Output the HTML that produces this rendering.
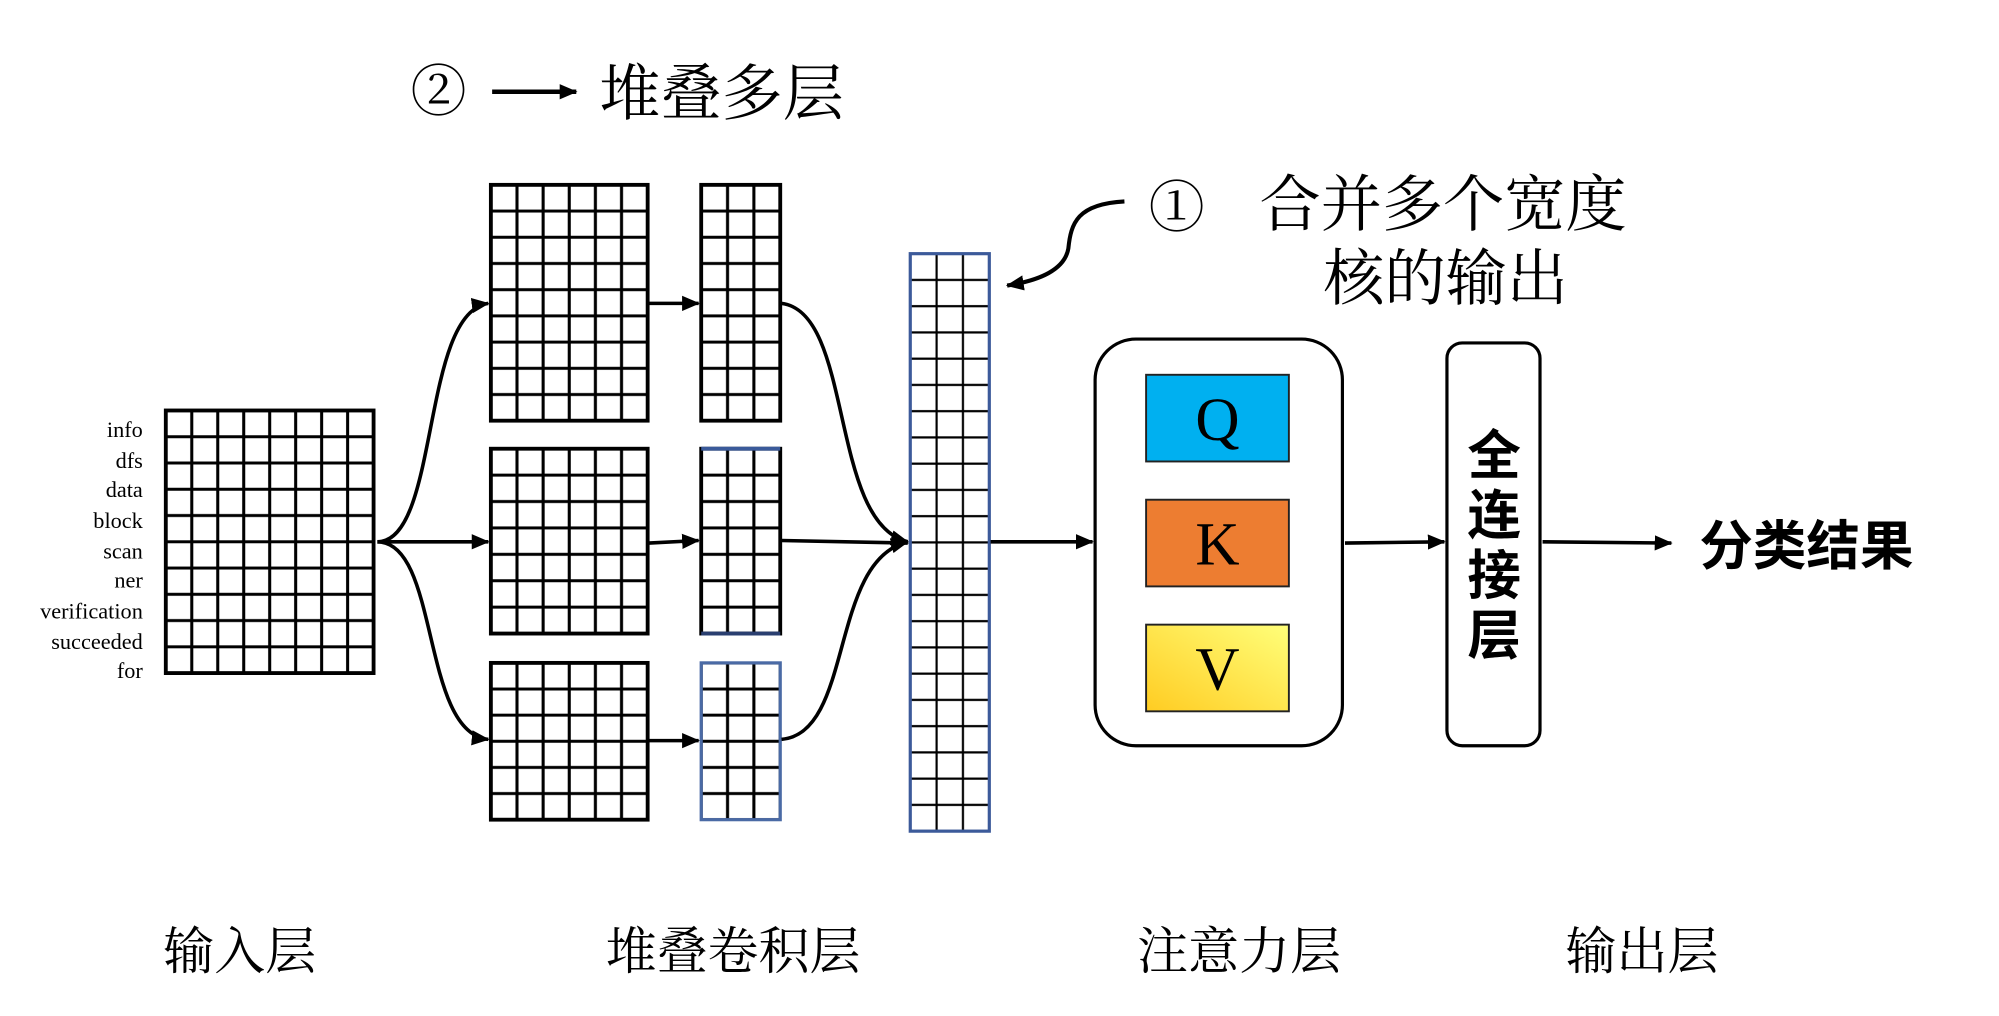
<!DOCTYPE html>
<html><head><meta charset="utf-8">
<style>
html,body{margin:0;padding:0;background:#fff;}
svg{display:block;}
.cn{font-family:"Liberation Serif","Noto Serif CJK SC","Noto Sans CJK SC",serif;}
.lab{font-family:"Liberation Serif",serif;font-size:17.5px;}
.bold{font-family:"Liberation Sans","Noto Sans CJK SC",sans-serif;font-weight:bold;}
</style></head>
<body>
<svg width="1999" height="1016" viewBox="0 0 1568 797" xmlns="http://www.w3.org/2000/svg">
<defs>
<marker id="ah" viewBox="0 0 10 10" refX="9" refY="5" markerWidth="6" markerHeight="6" markerUnits="userSpaceOnUse" orient="auto">
</marker>
<marker id="a" viewBox="0 0 14 12" refX="13" refY="6" markerWidth="14" markerHeight="12" markerUnits="userSpaceOnUse" orient="auto">
<path d="M0 0 L14 6 L0 12 Z" fill="#000"/>
</marker>
<pattern id="pIn" patternUnits="userSpaceOnUse" x="140.19" y="332.3" width="20.375" height="20.6">
<path d="M10.19 0 V20.6 M0 10.3 H20.375" stroke="#000" stroke-width="2.4"/></pattern>
<pattern id="pT" patternUnits="userSpaceOnUse" x="395.25" y="155.28" width="20.5" height="20.56">
<path d="M10.25 0 V20.56 M0 10.28 H20.5" stroke="#000" stroke-width="2.4"/></pattern>
<pattern id="pM" patternUnits="userSpaceOnUse" x="395.25" y="362.36" width="20.5" height="20.71">
<path d="M10.25 0 V20.71 M0 10.36 H20.5" stroke="#000" stroke-width="2.4"/></pattern>
<pattern id="pB" patternUnits="userSpaceOnUse" x="395.25" y="530.25" width="20.5" height="20.5">
<path d="M10.25 0 V20.5 M0 10.25 H20.5" stroke="#000" stroke-width="2.4"/></pattern>
<pattern id="qT" patternUnits="userSpaceOnUse" x="560.33" y="155.28" width="20.67" height="20.56">
<path d="M10.33 0 V20.56 M0 10.28 H20.67" stroke="#000" stroke-width="2.4"/></pattern>
<pattern id="qM" patternUnits="userSpaceOnUse" x="560.33" y="362.36" width="20.67" height="20.71">
<path d="M10.33 0 V20.71 M0 10.36 H20.67" stroke="#000" stroke-width="2.4"/></pattern>
<pattern id="qB" patternUnits="userSpaceOnUse" x="560.33" y="530.25" width="20.67" height="20.5">
<path d="M10.33 0 V20.5 M0 10.25 H20.67" stroke="#000" stroke-width="2.4"/></pattern>
<pattern id="pC" patternUnits="userSpaceOnUse" x="724.33" y="209.3" width="20.67" height="20.59">
<path d="M10.33 0 V20.59 M0 10.3 H20.67" stroke="#000" stroke-width="1.7"/></pattern>
<linearGradient id="yg" x1="0" y1="1" x2="1" y2="0">
<stop offset="0" stop-color="#ffcc22"/><stop offset="1" stop-color="#ffff7a"/></linearGradient>
</defs>

<!-- top title -->
<text x="344" y="87" class="cn" font-size="44" text-anchor="middle">②</text>
<line x1="386" y1="72" x2="452" y2="72" stroke="#000" stroke-width="3.5" marker-end="url(#a)"/>
<text x="470" y="90" class="cn" font-size="48">堆叠多层</text>

<!-- input labels -->
<g class="lab" text-anchor="end">
<text x="112" y="343">info</text>
<text x="112" y="367">dfs</text>
<text x="112" y="390">data</text>
<text x="112" y="414">block</text>
<text x="112" y="438">scan</text>
<text x="112" y="461">ner</text>
<text x="112" y="485">verification</text>
<text x="112" y="509">succeeded</text>
<text x="112" y="532">for</text>
</g>

<!-- grids -->
<rect x="130" y="322" width="163" height="206" fill="url(#pIn)" stroke="#000" stroke-width="3"/>
<rect x="385" y="145" width="123" height="185" fill="url(#pT)" stroke="#000" stroke-width="3"/>
<rect x="385" y="352" width="123" height="145" fill="url(#pM)" stroke="#000" stroke-width="3"/>
<rect x="385" y="520" width="123" height="123" fill="url(#pB)" stroke="#000" stroke-width="3"/>
<rect x="550" y="145" width="62" height="185" fill="url(#qT)" stroke="#000" stroke-width="3"/>
<rect x="550" y="352" width="62" height="145" fill="url(#qM)" stroke="#000" stroke-width="3"/>
<line x1="550" y1="352" x2="612" y2="352" stroke="#3a5a9a" stroke-width="3"/>
<line x1="550" y1="497" x2="612" y2="497" stroke="#2a3f70" stroke-width="3"/>
<rect x="550" y="520" width="62" height="123" fill="url(#qB)" stroke="#4a6aa5" stroke-width="2.5"/>
<rect x="714" y="199" width="62" height="453" fill="url(#pC)" stroke="#3c5a9a" stroke-width="2.5"/>

<!-- connectors -->
<g fill="none" stroke="#000" stroke-width="2.8">
<path d="M296 425 C345 425 330 245 383 238" marker-end="url(#a)"/>
<path d="M296 425 L383 425" marker-end="url(#a)"/>
<path d="M296 425 C345 425 330 575 383 580" marker-end="url(#a)"/>
<path d="M509 238 L548 238" marker-end="url(#a)"/>
<path d="M509 426 L548 424" marker-end="url(#a)"/>
<path d="M509 581 L548 581" marker-end="url(#a)"/>
<path d="M613 238 C670 245 650 410 712 425" marker-end="url(#a)"/>
<path d="M613 424 L712 426" marker-end="url(#a)"/>
<path d="M613 580 C670 575 650 440 712 425" marker-end="url(#a)"/>
<path d="M777 425 L857 425" marker-end="url(#a)"/>
<path d="M1055 426 L1133 425" marker-end="url(#a)"/>
<path d="M1210 425 L1311 426" marker-end="url(#a)"/>
<path d="M882 158 C845 160 840 175 838 195 C835 212 815 220 790 224" stroke-width="3.2" marker-end="url(#a)"/>
</g>

<!-- note 1 -->
<text x="923" y="178" class="cn" font-size="44" text-anchor="middle">①</text>
<text x="988" y="177" class="cn" font-size="48">合并多个宽度</text>
<text x="1038" y="235" class="cn" font-size="48">核的输出</text>

<!-- attention -->
<rect x="859" y="266" width="194" height="319" rx="32" fill="#fff" stroke="#000" stroke-width="2.5"/>
<rect x="899" y="294" width="112" height="68" fill="#00b0f0" stroke="#222" stroke-width="1.5"/>
<rect x="899" y="392" width="112" height="68" fill="#ed7d31" stroke="#222" stroke-width="1.5"/>
<rect x="899" y="490" width="112" height="68" fill="url(#yg)" stroke="#222" stroke-width="1.5"/>
<g font-family="Liberation Serif,serif" font-size="48" text-anchor="middle">
<text x="955" y="345">Q</text>
<text x="955" y="443">K</text>
<text x="955" y="541">V</text>
</g>

<!-- FC -->
<rect x="1135" y="269" width="73" height="316" rx="12" fill="#fff" stroke="#000" stroke-width="2.5"/>
<g class="bold" font-size="42" text-anchor="middle">
<text x="1172" y="372">全</text>
<text x="1172" y="419">连</text>
<text x="1172" y="466">接</text>
<text x="1172" y="513">层</text>
</g>
<text x="1333" y="443" class="bold" font-size="42">分类结果</text>

<!-- bottom labels -->
<g class="cn" font-size="40">
<text x="128" y="760">输入层</text>
<text x="475" y="760">堆叠卷积层</text>
<text x="892" y="760">注意力层</text>
<text x="1228" y="760">输出层</text>
</g>
</svg>
</body></html>
